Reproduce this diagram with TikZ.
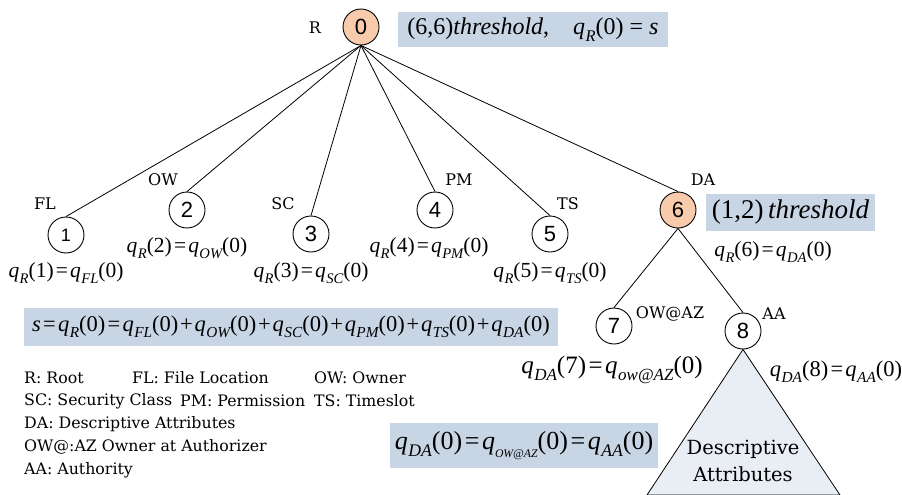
\documentclass[tikz,border=0pt]{standalone}
\usepackage{fontspec}
\usepackage{graphicx}
\setmainfont{Liberation Serif}
\newfontfamily\arialf{Liberation Sans}
\newfontfamily\camf{DejaVu Serif}
\definecolor{peach}{RGB}{248,203,173}
\definecolor{boxblue}{RGB}{200,213,229}
\definecolor{trifill}{RGB}{233,237,244}
\newcommand{\sbs}[1]{\raisebox{-0.28em}{\scalebox{0.68}{\itshape #1}}}
\newcommand{\qv}[2]{\textit{q}\kern0.02em\sbs{#1}(#2)}
\newcommand{\eqs}{\kern0.1em=\kern0.1em}
\newcommand{\pls}{\kern0.08em+\kern0.08em}
\begin{document}
\begin{tikzpicture}[x=1pt,y=-1pt,
  tnode/.style={circle,draw,line width=0.9pt,minimum size=36pt,inner sep=0pt,font=\arialf\fontsize{22}{22}\selectfont},
  hot/.style={fill=peach},
  lbl/.style={font=\camf\fontsize{16}{18}\selectfont,inner sep=0pt},
  eq/.style={font=\fontsize{21.5}{23}\selectfont,inner sep=0pt},
  bigeq/.style={font=\fontsize{24}{26}\selectfont,inner sep=0pt},
  hl/.style={fill=boxblue,inner sep=0pt},
  leg/.style={font=\camf\fontsize{15.8}{18}\selectfont,anchor=west,inner sep=0pt},
  edge/.style={line width=0.8pt}
]
\useasboundingbox (0,0) rectangle (902,495);

% highlighted boxes
\node[hl,bigeq,minimum width=270pt,minimum height=35pt] (b0) at (533,30)
  {(6,6)\textit{threshold},\quad \qv{R}{0} = \textit{s}};
\node[hl,minimum width=169pt,minimum height=37pt,font=\fontsize{27}{29}\selectfont] (b6) at (790.5,212.5)
  {(1,2)\,\textit{threshold}};
\node[hl,minimum width=534pt,minimum height=38pt,font=\fontsize{22.5}{24}\selectfont] (bsum) at (291,327)
  {\textit{s}\eqs\qv{R}{0}\eqs\qv{FL}{0}\pls\qv{OW}{0}\pls\qv{SC}{0}\pls\qv{PM}{0}\pls\qv{TS}{0}\pls\qv{DA}{0}};
\node[hl,minimum width=268pt,minimum height=45pt,font=\fontsize{26}{28}\selectfont] (bda) at (524,445.5)
  {\qv{DA}{0}\eqs\textit{q}\raisebox{-0.3em}{\scalebox{0.45}{\itshape OW@AZ}}(0)\eqs\qv{AA}{0}};

% tree nodes
\node[tnode,hot] (n0) at (361,27) {0};
\node[tnode,font=\arialf\fontsize{18}{18}\selectfont] (n1) at (66,235) {1};
\node[tnode] (n2) at (187,210) {2};
\node[tnode] (n3) at (311,234) {3};
\node[tnode] (n4) at (435,210) {4};
\node[tnode] (n5) at (550,234) {5};
\node[tnode,hot] (n6) at (678,210) {6};
\node[tnode] (n7) at (614,326) {7};
\node[tnode] (n8) at (743,331) {8};

% triangle subtree
\coordinate (tl) at (647,495);
\coordinate (tr) at (840,495);
\draw[edge,fill=trifill] (n8.south) -- (tl) -- (tr) -- cycle;
\node[font=\camf\fontsize{19.5}{27}\selectfont,align=center,inner sep=0pt] (tri) at (743,461)
  {Descriptive\\Attributes};

% edges
\foreach \c in {n1,n2,n3,n4,n5,n6}{\draw[edge] (n0.south) -- (\c.north);}
\draw[edge] (n6.south) -- (n7.north);
\draw[edge] (n6.south) -- (n8.north);

% node name labels
\node[lbl] (lR) at (315,28) {R};
\node[lbl] (lFL) at (45,204) {FL};
\node[lbl] (lOW) at (163,180) {OW};
\node[lbl] (lSC) at (283,204) {SC};
\node[lbl] (lPM) at (459,180) {PM};
\node[lbl] (lTS) at (568,204) {TS};
\node[lbl] (lDA) at (703,180) {DA};
\node[lbl] (lOWAZ) at (670,314) {OW@AZ};
\node[lbl] (lAA) at (774,314) {AA};

% share equations
\node[eq] (e1) at (66,273) {\qv{R}{1}\eqs\qv{FL}{0}};
\node[eq] (e2) at (187,248) {\qv{R}{2}\eqs\qv{OW}{0}};
\node[eq] (e3) at (311,273) {\qv{R}{3}\eqs\qv{SC}{0}};
\node[eq] (e4) at (429,248) {\qv{R}{4}\eqs\qv{PM}{0}};
\node[eq] (e5) at (550,273) {\qv{R}{5}\eqs\qv{TS}{0}};
\node[eq] (e6) at (773,252) {\qv{R}{6}\eqs\qv{DA}{0}};
\node[eq,font=\fontsize{25}{27}\selectfont] (e7) at (612,370) {\qv{DA}{7}\eqs\qv{ow@AZ}{0}};
\node[eq,font=\fontsize{22.5}{24}\selectfont] (e8) at (836,372) {\qv{DA}{8}\eqs\qv{AA}{0}};

% legend
\node[leg] (g1) at (24,378) {R: Root};
\node[leg] (g2) at (132,378) {FL: File Location};
\node[leg] (g3) at (314,378) {OW: Owner};
\node[leg] (g4) at (24,401) {SC: Security Class};
\node[leg] (g5) at (180,401) {PM: Permission};
\node[leg] (g6) at (314,401) {TS: Timeslot};
\node[leg] (g7) at (24,424) {DA: Descriptive Attributes};
\node[leg] (g8) at (24,447) {OW@:AZ Owner at Authorizer};
\node[leg] (g9) at (24,470) {AA: Authority};
\end{tikzpicture}
\end{document}
